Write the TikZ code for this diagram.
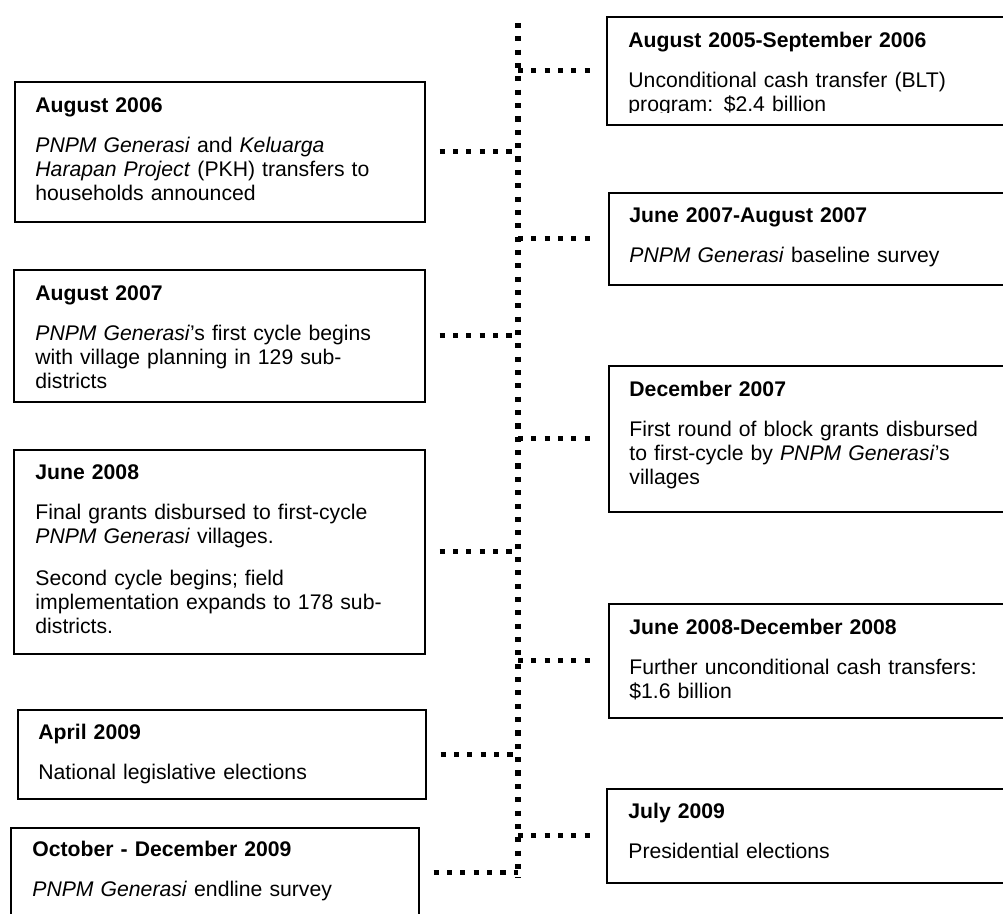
\documentclass[tikz,border=0pt]{standalone}
\usepackage{fontspec}
\setmainfont{Liberation Sans}
\usepackage{tikz}
\newcommand{\pxl}{0.472pt}

\begin{document}
\begin{tikzpicture}
      [x=0.472pt,y=-0.472pt,every node/.style={font=\fontsize{10}{11.4}\selectfont}]

      \tikzstyle{evbox} = [draw,line width=0.8pt,rectangle,inner sep=0pt,anchor=north west]
      \tikzstyle{evtext} = [anchor=base west,inner sep=0pt,text width=175pt,align=left]
      \tikzstyle{timeline} = [line width=2.4pt,dash pattern=on 2.4pt off 3.9pt]

      \useasboundingbox (0,0) rectangle (1003,913);

      % left column
      \node[evbox,minimum width=410*\pxl,minimum height=140*\pxl] (aug06) at (14,81) {};
      \node[evbox,minimum width=411*\pxl,minimum height=132*\pxl] (aug07) at (13,269) {};
      \node[evbox,minimum width=411*\pxl,minimum height=204*\pxl] (jun08) at (13,449) {};
      \node[evbox,minimum width=408*\pxl,minimum height=89*\pxl] (apr09) at (17,709) {};
      \node[evbox,minimum width=408*\pxl,minimum height=90*\pxl] (oct09) at (10,827) {};

      % right column
      \node[evbox,minimum width=404*\pxl,minimum height=108*\pxl] (blt) at (606,16) {};
      \node[evbox,minimum width=402*\pxl,minimum height=92*\pxl] (base) at (608,192) {};
      \node[evbox,minimum width=402*\pxl,minimum height=146*\pxl] (dec07) at (608,365) {};
      \node[evbox,minimum width=402*\pxl,minimum height=114*\pxl] (cash08) at (608,603) {};
      \node[evbox,minimum width=404*\pxl,minimum height=94*\pxl] (jul09) at (606,788) {};

      \node[evtext] (aug06t) at ([xshift=21*\pxl,yshift=-31*\pxl]aug06.north west)
            {\textbf{August 2006}\\[7.6pt]
             \textit{PNPM Generasi} and \textit{Keluarga}\\
             \textit{Harapan Project} (PKH) transfers to\\
             households announced};
      \node[evtext] (aug07t) at ([xshift=22*\pxl,yshift=-31*\pxl]aug07.north west)
            {\textbf{August 2007}\\[7.6pt]
             \textit{PNPM Generasi}’s first cycle begins\\
             with village planning in 129 sub-\\
             districts};
      \node[evtext] (jun08t) at ([xshift=22*\pxl,yshift=-30*\pxl]jun08.north west)
            {\textbf{June 2008}\\[7.6pt]
             Final grants disbursed to first-cycle\\
             \textit{PNPM Generasi} villages.\\[8.4pt]
             Second cycle begins; field\\
             implementation expands to 178 sub-\\
             districts.};
      \node[evtext] (apr09t) at ([xshift=21*\pxl,yshift=-30*\pxl]apr09.north west)
            {\textbf{April 2009}\\[7.6pt]
             National legislative elections};
      \node[evtext] (oct09t) at ([xshift=22*\pxl,yshift=-29*\pxl]oct09.north west)
            {\textbf{October - December 2009}\\[7.6pt]
             \textit{PNPM Generasi} endline survey};

      \begin{scope}
            \clip (606,16) rectangle (1010,112);
            \node[evtext] (bltt) at ([xshift=22*\pxl,yshift=-31*\pxl]blt.north west)
                  {\textbf{August 2005-September 2006}\\[7.6pt]
                   Unconditional cash transfer (BLT)\\
                   program: \$2.4 billion};
      \end{scope}
      \node[evtext] (baset) at ([xshift=21*\pxl,yshift=-30*\pxl]base.north west)
            {\textbf{June 2007-August 2007}\\[7.6pt]
             \textit{PNPM Generasi} baseline survey};
      \node[evtext] (dec07t) at ([xshift=21*\pxl,yshift=-31*\pxl]dec07.north west)
            {\textbf{December 2007}\\[7.6pt]
             First round of block grants disbursed\\
             to first-cycle by \textit{PNPM Generasi}’s\\
             villages};
      \node[evtext] (cash08t) at ([xshift=21*\pxl,yshift=-31*\pxl]cash08.north west)
            {\textbf{June 2008-December 2008}\\[7.6pt]
             Further unconditional cash transfers:\\
             \$1.6 billion};
      \node[evtext] (jul09t) at ([xshift=22*\pxl,yshift=-30*\pxl]jul09.north west)
            {\textbf{July 2009}\\[7.6pt]
             Presidential elections};

      % time line and ties
      \coordinate (spinetop) at (518,23);
      \coordinate (spinebot) at (518,878);
      \draw[timeline] (spinetop) -- (spinebot);

      \foreach \ev in {aug06,aug07,jun08,apr09,oct09}
            \draw[timeline] ([xshift=14*\pxl]\ev.east) -- (\ev.east -| spinetop);
      \foreach \ev in {blt,base,dec07,cash08,jul09}
            \draw[timeline] (\ev.west -| spinetop) -- ([xshift=-12*\pxl]\ev.west);
\end{tikzpicture}
\end{document}
